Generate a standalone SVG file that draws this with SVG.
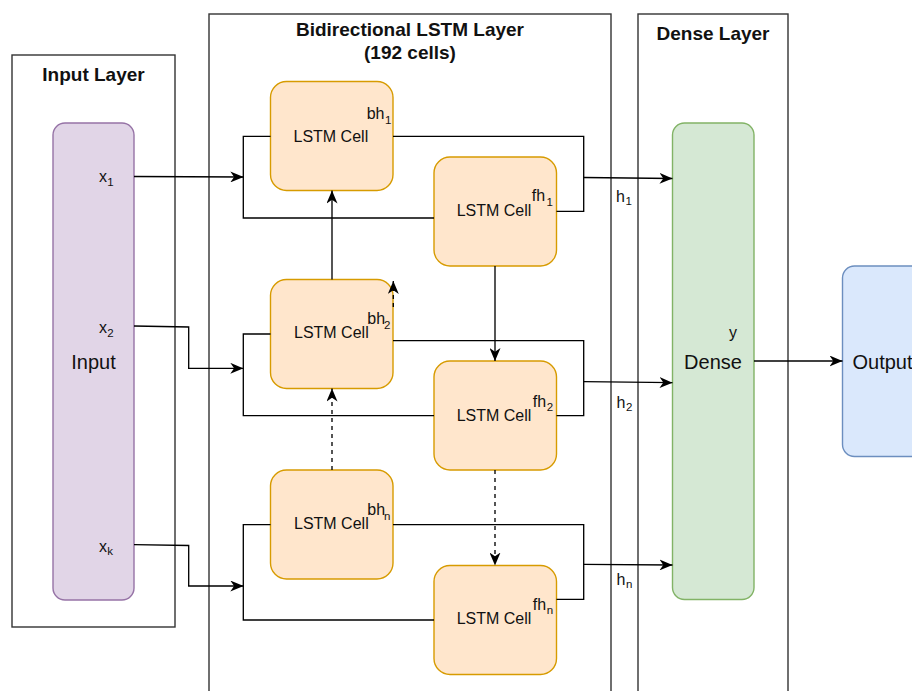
<svg xmlns="http://www.w3.org/2000/svg" width="912" height="691" viewBox="0 0 912 691">
  <style>
    .layer { fill: #ffffff; stroke: #333333; stroke-width: 1.4; }
    .title { font-family: "Liberation Sans", Arial, sans-serif; font-size: 19px; font-weight: bold; fill: #111111; text-anchor: middle; }
    .cell { fill: #ffe6cc; stroke: #d79b00; stroke-width: 1.4; }
    .inp { fill: #e1d5e7; stroke: #9673a6; stroke-width: 1.4; }
    .dense { fill: #d5e8d4; stroke: #82b366; stroke-width: 1.4; }
    .out { fill: #dae8fc; stroke: #6c8ebf; stroke-width: 1.4; }
    .lbl { font-family: "Liberation Sans", Arial, sans-serif; font-size: 16px; fill: #111111; }
    .big { font-family: "Liberation Sans", Arial, sans-serif; font-size: 20px; fill: #111111; }
    .sub { font-size: 11.5px; }
    .wire { fill: none; stroke: #000000; stroke-width: 1.33; }
    .arr { marker-end: url(#head); }
    .dash { stroke-dasharray: 4 4; }
  </style>
  <defs>
    <marker id="head" markerUnits="userSpaceOnUse" markerWidth="13" markerHeight="11" refX="13" refY="5.5" orient="auto">
      <path d="M0,0 L13,5.5 L0,11 L3.8,5.5 Z" fill="#000000"/>
    </marker>
  </defs>

  <!-- layer frames -->
  <g id="input-layer">
    <rect class="layer" x="12" y="55" width="163" height="572"/>
    <text class="title" x="93.5" y="81">Input Layer</text>
  </g>
  <g id="bilstm-layer">
    <rect class="layer" x="209" y="14" width="402" height="690"/>
    <text class="title" x="410" y="36">Bidirectional LSTM Layer</text>
    <text class="title" x="410" y="59">(192 cells)</text>
  </g>
  <g id="dense-layer">
    <rect class="layer" x="638" y="14" width="150" height="690"/>
    <text class="title" x="713" y="40">Dense Layer</text>
  </g>

  <!-- input node -->
  <g id="input">
    <rect class="inp" x="53" y="123" width="81" height="477" rx="12" ry="12"/>
    <text class="big" x="93.5" y="369" text-anchor="middle">Input</text>
    <text class="lbl" x="99" y="181.7">x</text><text class="lbl sub" x="107.3" y="185.7">1</text>
    <text class="lbl" x="99" y="333.3">x</text><text class="lbl sub" x="107.3" y="337">2</text>
    <text class="lbl" x="99" y="551.7">x</text><text class="lbl sub" x="107.3" y="555">k</text>
  </g>

  <!-- LSTM cells -->
  <g id="bh1">
    <rect class="cell" x="270.5" y="81.5" width="122.5" height="109" rx="16" ry="16"/>
    <text class="lbl" x="293.5" y="141.5">LSTM Cell</text>
    <text class="lbl" x="366.7" y="119.3">bh</text><text class="lbl sub" x="385" y="123.5">1</text>
  </g>
  <g id="fh1">
    <rect class="cell" x="434" y="157" width="122.5" height="109" rx="16" ry="16"/>
    <text class="lbl" x="456.7" y="216">LSTM Cell</text>
    <text class="lbl" x="531.7" y="200.7">fh</text><text class="lbl sub" x="546.5" y="205.5">1</text>
  </g>
  <g id="bh2">
    <rect class="cell" x="270.5" y="279.5" width="122.5" height="109" rx="16" ry="16"/>
    <text class="lbl" x="294" y="338.3">LSTM Cell</text>
    <text class="lbl" x="367.3" y="324.3">bh</text><text class="lbl sub" x="384" y="329.3">2</text>
  </g>
  <g id="fh2">
    <rect class="cell" x="434" y="361" width="122.5" height="109" rx="16" ry="16"/>
    <text class="lbl" x="456.7" y="420.7">LSTM Cell</text>
    <text class="lbl" x="532.7" y="406.7">fh</text><text class="lbl sub" x="546.7" y="410.5">2</text>
  </g>
  <g id="bhn">
    <rect class="cell" x="270.5" y="470" width="122.5" height="109" rx="16" ry="16"/>
    <text class="lbl" x="294" y="529">LSTM Cell</text>
    <text class="lbl" x="367.3" y="515">bh</text><text class="lbl sub" x="384" y="520">n</text>
  </g>
  <g id="fhn">
    <rect class="cell" x="434" y="565.5" width="122.5" height="109" rx="16" ry="16"/>
    <text class="lbl" x="456.7" y="624.3">LSTM Cell</text>
    <text class="lbl" x="532.7" y="610">fh</text><text class="lbl sub" x="546.7" y="614.3">n</text>
  </g>

  <!-- dense node -->
  <g id="dense">
    <rect class="dense" x="672.5" y="123" width="81.5" height="476.5" rx="12" ry="12"/>
    <text class="big" x="713" y="368.5" text-anchor="middle">Dense</text>
    <text class="lbl" x="729" y="337.6">y</text>
  </g>

  <!-- output node -->
  <g id="output">
    <rect class="out" x="842.5" y="266" width="81" height="190.5" rx="12" ry="12"/>
    <text class="big" x="852.5" y="368.5">Output</text>
  </g>

  <!-- connectors -->
  <g id="connectors">
    <!-- inputs into each bidirectional pair -->
    <path class="wire arr" d="M134,176.5 L243.3,177"/>
    <path class="wire arr" d="M134,326 L188.7,327 L188.7,368.3 L243.3,368.3"/>
    <path class="wire arr" d="M134,544.7 L188.7,545.5 L188.7,586 L243.3,586"/>

    <!-- input brackets feeding backward and forward cells -->
    <path class="wire" d="M270.5,136.3 L243.3,136.3 L243.3,218 L434,218"/>
    <path class="wire" d="M270.5,334 L243.3,334 L243.3,415.7 L434,415.7"/>
    <path class="wire" d="M270.5,524.7 L243.3,524.7 L243.3,620 L434,620"/>

    <!-- output brackets merging backward and forward states -->
    <path class="wire" d="M393,136.3 L583.7,136.3 L583.7,211.3 L556.5,211.3"/>
    <path class="wire" d="M393,340.7 L583.7,340.7 L583.7,415.7 L556.5,415.7"/>
    <path class="wire" d="M393,524.7 L583.7,524.7 L583.7,599.3 L556.5,599.3"/>

    <!-- hidden states into dense -->
    <path class="wire arr" d="M583.7,177.5 L672.5,178.5"/>
    <path class="wire arr" d="M583.7,381.7 L672.5,382.7"/>
    <path class="wire arr" d="M583.7,564.3 L672.5,565"/>

    <!-- recurrent links -->
    <path class="wire arr" d="M332,279.5 L332,190.5"/>
    <path class="wire arr dash" d="M332,470 L332,388.5"/>
    <path class="wire arr" d="M495,266 L495,361"/>
    <path class="wire arr dash" d="M495,470 L495,565.5"/>
    <path class="wire arr dash" d="M393.3,307 L393.3,281"/>

    <!-- dense to output -->
    <path class="wire arr" d="M754,361 L842.5,361"/>
  </g>

  <!-- hidden state labels -->
  <g id="h-labels">
    <text class="lbl" x="616" y="201.7">h</text><text class="lbl sub" x="625.5" y="205.3">1</text>
    <text class="lbl" x="616.5" y="408.3">h</text><text class="lbl sub" x="626" y="411">2</text>
    <text class="lbl" x="616.5" y="585">h</text><text class="lbl sub" x="626" y="587.5">n</text>
  </g>
</svg>
